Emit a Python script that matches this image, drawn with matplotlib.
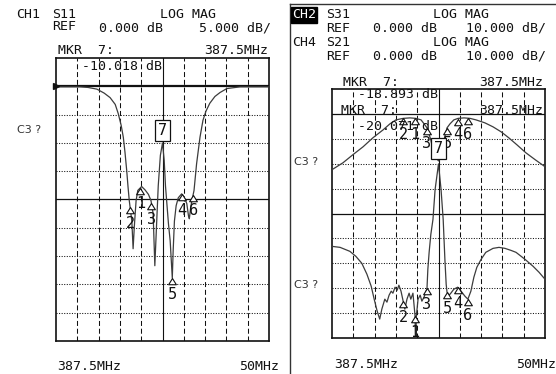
import numpy as np
import matplotlib
matplotlib.use("Agg")
import matplotlib.pyplot as plt
from matplotlib.path import Path

plt.rcParams["lines.scale_dashes"] = False

# ---- sweep settings ----
center_mhz = 387.5
span_mhz = 50.0
divisions = 10

# ---- CH1: S11, log magnitude (dB) ----
s11_freq = [362.5, 368.1, 370.0, 372.1, 373.8, 375.2, 376.4, 377.1, 377.8, 378.3,
            378.7, 379.1, 379.4, 379.7, 380.0, 380.3, 380.6, 380.9, 381.3, 381.7,
            382.6, 383.4, 384.2, 384.8, 385.3, 385.7, 386.1, 386.5, 387.0, 387.5,
            387.9, 388.2, 388.9, 389.3, 389.8, 390.0, 390.3, 390.7, 391.2, 392.0,
            392.5, 393.2, 393.6, 393.8, 394.1, 394.4, 394.9, 395.5, 396.3, 397.0,
            397.7, 398.6, 399.8, 401.0, 402.6, 405.7, 412.5]
s11_db = [-0.1, -0.1, -0.2, -0.5, -1.2, -2.0, -3.2, -4.8, -6.9, -9.0,
          -11.7, -14.9, -17.7, -20.2, -22.0, -23.8, -28.7, -24.6, -20.2, -18.4,
          -17.7, -18.3, -19.1, -20.2, -22.5, -31.7, -24.6, -17.6, -12.2, -10.018,
          -13.1, -17.6, -24.3, -27.3, -33.9, -29.1, -23.8, -21.1, -19.7, -19.0,
          -19.5, -20.7, -22.9, -23.4, -21.5, -20.2, -18.4, -13.7, -9.0, -6.0,
          -4.4, -3.0, -1.8, -1.1, -0.4, -0.1, -0.1]

# ---- CH2: S31, log magnitude (dB) ----
s31_freq = [362.5, 365.1, 367.4, 369.8, 372.1, 374.5, 376.1, 377.5, 379.2, 380.8,
            382.2, 383.4, 384.3, 384.8, 385.7, 386.4, 387.5, 388.1, 388.8, 389.5,
            390.2, 391.1, 392.1, 393.5, 394.9, 396.3, 398.4, 400.3, 402.2, 404.0,
            405.9, 408.0, 410.2, 412.5]
s31_db = [-22.4, -19.6, -16.4, -13.2, -9.6, -6.4, -4.0, -2.4, -1.8, -1.6,
          -1.8, -2.4, -4.4, -5.6, -10.4, -16.4, -18.893, -16.4, -10.4, -5.6,
          -4.0, -2.4, -1.8, -1.6, -1.8, -2.4, -3.6, -5.2, -7.2, -9.6,
          -12.4, -15.6, -18.4, -21.2]

# ---- CH4: S21, log magnitude (dB) ----
s21_freq = [362.5, 364.4, 366.7, 368.1, 369.5, 370.7, 371.7, 372.4, 373.1, 373.7,
            374.2, 374.9, 375.4, 375.9, 376.4, 376.8, 377.3, 377.8, 378.2, 378.7,
            379.2, 379.6, 380.1, 380.6, 381.0, 381.5, 382.0, 382.1, 382.3, 382.7,
            383.2, 383.6, 384.1, 384.6, 384.8, 385.0, 385.3, 385.7, 386.2, 386.7,
            387.5, 388.1, 388.6, 389.0, 389.3, 389.5, 390.0, 390.4, 391.1, 392.0,
            392.8, 393.7, 394.4, 395.1, 395.8, 396.5, 397.5, 398.6, 400.3, 401.7,
            403.1, 404.5, 405.7, 407.8, 409.7, 411.1, 412.5]
s21_db = [-53.2, -53.6, -55.2, -57.2, -60.0, -64.4, -69.2, -74.4, -79.2, -82.4,
          -78.4, -74.4, -75.6, -72.8, -71.2, -72.0, -69.6, -70.8, -68.8, -71.2,
          -75.2, -78.4, -74.4, -72.0, -74.4, -72.0, -81.2, -95.0, -81.2, -74.4,
          -72.8, -75.2, -73.6, -71.2, -70.0, -62.4, -55.6, -48.4, -42.4, -30.4,
          -20.071, -30.4, -42.4, -58.4, -68.4, -71.6, -72.8, -72.0, -70.4, -69.6,
          -71.2, -73.2, -74.4, -71.2, -65.6, -61.6, -58.4, -55.6, -54.0, -53.6,
          -54.0, -54.8, -55.6, -58.4, -61.2, -63.6, -66.4]

# ---- markers ----
marker_names = ["2", "1", "3", "5", "4", "6"]
marker_mhz_ch1 = [379.9, 382.3, 384.9, 389.8, 392.1, 394.7]
marker_mhz_ch24 = [379.2, 382.0, 384.8, 389.5, 392.0, 394.4]
active_marker = "7"
active_marker_mhz = 387.5

W, H = 556, 374
fig = plt.figure(figsize=(W / 100, H / 100), dpi=100)
fig.patch.set_facecolor("white")

INK = "#111111"
TRACE = "#3c3c3c"
MONO = "DejaVu Sans Mono"


def px_axes(x0, y0, x1, y1):
    return fig.add_axes([x0 / W, 1 - y1 / H, (x1 - x0) / W, (y1 - y0) / H])


def label(x, y, s, size=9.5, color=INK, family=MONO, **kw):
    return fig.text(x / W, 1 - y / H, s, ha="left", va="center",
                    fontsize=size, color=color, family=family, **kw)


def screen(ax, top_db, db_per_div, solid_levels, thick_levels=()):
    f0 = center_mhz - span_mhz / 2
    f1 = center_mhz + span_mhz / 2
    bottom_db = top_db - divisions * db_per_div
    ax.set_xlim(f0, f1)
    ax.set_ylim(bottom_db, top_db)
    ax.set_xticks([])
    ax.set_yticks([])
    for sp in ax.spines.values():
        sp.set_linewidth(1.2)
        sp.set_color(INK)
    step = span_mhz / divisions
    for k in range(1, divisions):
        f = f0 + k * step
        if k == divisions // 2:
            ax.axvline(f, color=INK, lw=0.8, zorder=1)
        else:
            ax.axvline(f, color=INK, lw=0.75, linestyle=(0, (3.6, 2.0)), zorder=1)
    for k in range(1, divisions):
        lvl = top_db - k * db_per_div
        if lvl in thick_levels:
            ax.axhline(lvl, color=INK, lw=1.6, zorder=1)
        elif lvl in solid_levels:
            ax.axhline(lvl, color=INK, lw=0.9, zorder=1)
        else:
            ax.axhline(lvl, color=INK, lw=0.75, linestyle=(0, (0.75, 1.1)), zorder=1)


tri = Path([(0, 0), (-0.62, -1.0), (0.62, -1.0), (0, 0)],
           [Path.MOVETO, Path.LINETO, Path.LINETO, Path.CLOSEPOLY])


def place_markers(ax, freq, db, mhz_list):
    vals = np.interp(mhz_list, freq, db)
    ax.plot(mhz_list, vals, linestyle="none", marker=tri, markersize=9,
            markerfacecolor="white", markeredgecolor=INK, markeredgewidth=0.8,
            zorder=5, clip_on=False)
    for name, f, v in zip(marker_names, mhz_list, vals):
        ax.annotate(name, (f, v), xytext=(0, -16), textcoords="offset pixels",
                    ha="center", va="center", fontsize=11, family=MONO,
                    color=INK, zorder=6, annotation_clip=False)


def box_marker(ax, f, v):
    ax.annotate(active_marker, (f, v), xytext=(0, 5), textcoords="offset pixels",
                ha="center", va="bottom", fontsize=11, family=MONO, color=INK,
                zorder=7, annotation_clip=False,
                bbox=dict(boxstyle="square,pad=0.2", fc="white", ec=INK, lw=0.9))


# ---- CH1 screen ----
ax1 = px_axes(56, 58, 269, 341)
screen(ax1, 5.0, 5.0, solid_levels=(-20.0,), thick_levels=(0.0,))
ax1.plot(s11_freq, s11_db, color=TRACE, lw=0.9, zorder=3)
ax1.plot([center_mhz - span_mhz / 2], [0.0], marker=">", markersize=4.5,
         color=INK, clip_on=False, transform=ax1.transData, zorder=4)
place_markers(ax1, s11_freq, s11_db, marker_mhz_ch1)
m7_ch1 = float(np.interp(active_marker_mhz, s11_freq, s11_db))
box_marker(ax1, active_marker_mhz, m7_ch1)

# ---- CH2 / CH4 screen ----
ax2 = px_axes(332, 89, 545, 338)
screen(ax2, 10.0, 10.0, solid_levels=(0.0, -40.0))
ax2.plot(s31_freq, s31_db, color=TRACE, lw=0.9, zorder=3)
ax2.plot(s21_freq, s21_db, color=TRACE, lw=0.9, zorder=3)
place_markers(ax2, s31_freq, s31_db, marker_mhz_ch24)
place_markers(ax2, s21_freq, s21_db, marker_mhz_ch24)
m7_ch2 = float(np.interp(active_marker_mhz, s31_freq, s31_db))
m7_ch4 = float(np.interp(active_marker_mhz, s21_freq, s21_db))
box_marker(ax2, active_marker_mhz, m7_ch2)

# ---- frame around the second screen ----
fig.add_artist(plt.Line2D([289.5 / W, 289.5 / W], [0, 1 - 4 / H], color="#333333",
                          lw=1.0, transform=fig.transFigure))
fig.add_artist(plt.Line2D([289.5 / W, 1], [1 - 4 / H, 1 - 4 / H], color="#333333",
                          lw=1.0, transform=fig.transFigure))

# ---- annotations, CH1 ----
label(16, 15, "CH1")
label(52, 15, "S11")
label(160, 15, "LOG MAG")
label(52, 27, "REF")
label(99, 28, "0.000 dB")
label(199, 28, "5.000 dB/")
label(58, 50, "MKR  7:")
label(204, 50, f"{active_marker_mhz:.1f}MHz")
label(82, 67, f"{m7_ch1:.3f} dB")
label(17, 130, "C3 ?", size=8, color="#333333", family="DejaVu Sans")
label(57, 366, f"{center_mhz:.1f}MHz")
label(239, 366, f"{span_mhz:.0f}MHz")

# ---- annotations, CH2 / CH4 ----
label(292, 15, "CH2", color="white",
      bbox=dict(boxstyle="square,pad=0.08", fc="black", ec="black"))
label(326, 15, "S31")
label(433, 15, "LOG MAG")
label(326, 28, "REF")
label(373, 28, "0.000 dB")
label(466, 28, "10.000 dB/")
label(292, 43, "CH4")
label(326, 43, "S21")
label(433, 43, "LOG MAG")
label(326, 56, "REF")
label(373, 56, "0.000 dB")
label(466, 56, "10.000 dB/")
label(343, 82, "MKR  7:")
label(479, 82, f"{active_marker_mhz:.1f}MHz")
label(358, 95, f"{m7_ch2:.3f} dB")
label(341, 111, "MKR  7:")
label(479, 111, f"{active_marker_mhz:.1f}MHz")
label(358, 127, f"{m7_ch4:.3f} dB")
label(294, 162, "C3 ?", size=8, color="#333333", family="DejaVu Sans")
label(294, 285, "C3 ?", size=8, color="#333333", family="DejaVu Sans")
label(334, 365, f"{center_mhz:.1f}MHz")
label(516, 365, f"{span_mhz:.0f}MHz")

fig.savefig("out.png", dpi=100, facecolor="white")
